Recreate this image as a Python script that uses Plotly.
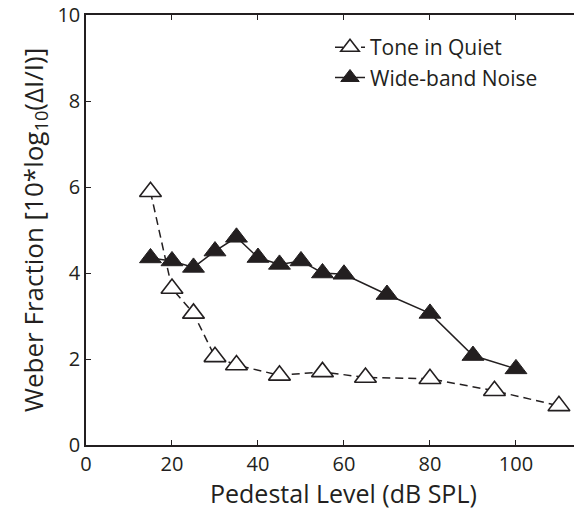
import plotly.graph_objects as go

# Data
tone_x = [15, 20, 25, 30, 35, 45, 55, 65, 80, 95, 110]
tone_y = [5.89, 3.64, 3.06, 2.05, 1.86, 1.62, 1.70, 1.57, 1.54, 1.26, 0.91]

noise_x = [15, 20, 25, 30, 35, 40, 45, 50, 55, 60, 70, 80, 90, 100]
noise_y = [4.35, 4.28, 4.13, 4.51, 4.83, 4.36, 4.20, 4.28, 4.00, 3.97, 3.50, 3.06, 2.08, 1.77]

x_ticks = [0, 20, 40, 60, 80, 100]
y_ticks = [0, 2, 4, 6, 8, 10]

INK = "#231f20"
FONT = "Open Sans"

fig = go.Figure()
fig.add_trace(go.Scatter(
    x=tone_x, y=tone_y, name="Tone in Quiet", mode="lines+markers",
    line=dict(color=INK, width=1.5, dash="8px,5px"),
    marker=dict(symbol="triangle-up", size=19, color="white",
                line=dict(color=INK, width=1.6)),
))
fig.add_trace(go.Scatter(
    x=noise_x, y=noise_y, name="Wide-band Noise", mode="lines+markers",
    line=dict(color=INK, width=1.5),
    marker=dict(symbol="triangle-up", size=19, color=INK,
                line=dict(color=INK, width=1)),
))

fig.update_layout(
    width=574, height=512,
    margin=dict(l=86, r=0, t=15, b=67),
    paper_bgcolor="white", plot_bgcolor="white",
    font=dict(family=FONT, color=INK, size=20),
    showlegend=True,
    legend=dict(x=0.50, y=0.972, xanchor="left", yanchor="top",
                bgcolor="rgba(0,0,0,0)", borderwidth=0,
                font=dict(size=21, family=FONT, color=INK)),
    xaxis=dict(range=[0, 113.5], tickvals=x_ticks, ticks="inside", ticklen=5,
               tickwidth=1, tickcolor=INK, showline=True, linecolor=INK,
               linewidth=1.5, mirror="ticks", showgrid=False, zeroline=False,
               tickfont=dict(size=20)),
    yaxis=dict(range=[0, 10], tickvals=y_ticks, ticks="inside", ticklen=5,
               tickwidth=1, tickcolor=INK, showline=True, linecolor=INK,
               linewidth=1.5, showgrid=False, zeroline=False,
               tickfont=dict(size=20)),
    annotations=[
        dict(text="Pedestal Level (dB SPL)", xref="paper", yref="paper",
             x=0.528, y=0, yshift=-67, xanchor="center", yanchor="bottom",
             showarrow=False, font=dict(size=25, family=FONT, color=INK)),
        dict(text="Weber Fraction [10*log<sub>10</sub>(\u0394I/I)]", xref="paper", yref="paper",
             x=0, y=0.5, xshift=-52, xanchor="center", yanchor="middle",
             textangle=-90, showarrow=False,
             font=dict(size=26, family=FONT, color=INK)),
    ],
)

fig.write_html("out.html")
